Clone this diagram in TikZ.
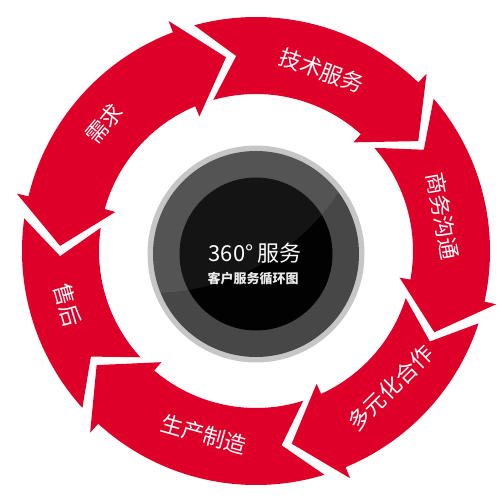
\documentclass[tikz,border=0pt]{standalone}
\usepackage{fontspec}
\newfontfamily\cjk{Noto Sans CJK SC}
\definecolor{ringred}{HTML}{DE0029}
\definecolor{lightring}{HTML}{C6C6C6}
\definecolor{darkring}{HTML}{474747}
\definecolor{coreblack}{HTML}{020202}
\begin{document}
\begin{tikzpicture}[x=1pt,y=1pt]
\tikzset{
  seg/.style={fill=ringred},
  lbl/.style={text=white, inner sep=0pt, font=\cjk\fontsize{22}{22}\selectfont},
  titletext/.style={text=white, inner sep=0pt, font=\cjk\fontsize{22}{22}\selectfont},
  subtext/.style={text=white!92!black, inner sep=0pt, font=\cjk\bfseries\fontsize{13}{13}\selectfont}
}
\useasboundingbox (-256,-249) rectangle (244,251);

% 技术服务
\fill[seg] (105.3:234) arc[start angle=105.3, end angle=46.1, radius=234]
  -- (46.1:246) -- (34.1:196) -- (48.1:146) -- (48.1:157)
  arc[start angle=48.1, end angle=105.8, radius=157] -- (95.8:196) -- cycle;
% 商务沟通
\fill[seg] (40.6:234) arc[start angle=40.6, end angle=-12.5, radius=234]
  -- (-12.5:246) -- (-24.5:196) -- (-10.5:146) -- (-10.5:157)
  arc[start angle=-10.5, end angle=41.1, radius=157] -- (31.1:196) -- cycle;
% 多元化合作
\fill[seg] (-18:234) arc[start angle=-18, end angle=-67.5, radius=234]
  -- (-67.5:246) -- (-79.5:196) -- (-65.5:146) -- (-65.5:157)
  arc[start angle=-65.5, end angle=-17.5, radius=157] -- (-27.5:196) -- cycle;
% 生产制造
\fill[seg] (-73:234) arc[start angle=-73, end angle=-132.4, radius=234]
  -- (-132.4:246) -- (-144.4:196) -- (-130.4:146) -- (-130.4:157)
  arc[start angle=-130.4, end angle=-72.5, radius=157] -- (-82.5:196) -- cycle;
% 售后
\fill[seg] (222.1:234) arc[start angle=222.1, end angle=172, radius=234]
  -- (181.5:196) -- (171.5:157)
  arc[start angle=171.5, end angle=222.6, radius=157] -- (212.6:196) -- cycle;
% 需求
\fill[seg] (166.5:234) arc[start angle=166.5, end angle=110.8, radius=234]
  -- (110.8:246) -- (98.8:196) -- (112.8:146) -- (112.8:157)
  arc[start angle=112.8, end angle=164.5, radius=157]
  -- (164.5:146) -- (178.5:196) -- (166.5:246) -- cycle;

% centre disc
\fill[lightring] (0,-3) circle (108.5);
\fill[darkring] (0,-3) circle (103);
\fill[coreblack] (0,-3) circle (76.5);
\begin{scope}
  \clip (0,-3) circle (103);
  \fill[white, opacity=0.075] (-105,183) circle (225);
\end{scope}

\node[titletext] (title) at (-1,-2.5) {360°\,服务};
\node[subtext] (sub) at (-3,-28) {客户服务循环图};

% labels
\node[lbl, rotate=-20] (jishu) at (70:192) {技术服务};
\node[lbl, rotate=-79.5] (shangwu) at (10.5:190) {商务沟通};
\node[lbl, rotate=44.5] (duoyuan) at (-45.5:192) {多元化合作};
\node[lbl, rotate=-15.8] (shengchan) at (-105.8:191) {生产制造};
\node[lbl, rotate=-74] (shouhou) at (196:196) {售后};
\node[lbl, rotate=50] (xuqiu) at (140:198) {需求};
\end{tikzpicture}
\end{document}
